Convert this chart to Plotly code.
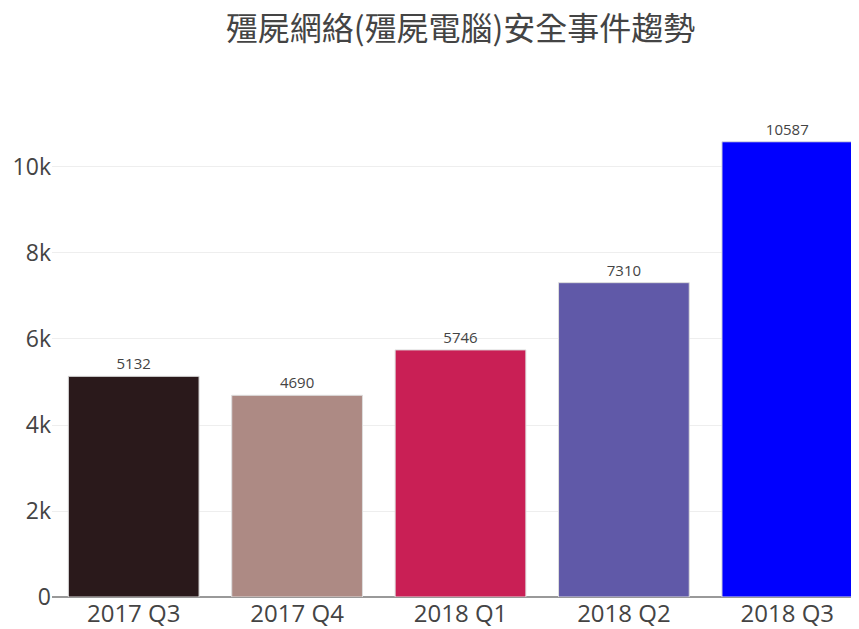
import plotly.graph_objects as go

categories = ["2017 Q3", "2017 Q4", "2018 Q1", "2018 Q2", "2018 Q3"]
values = [5132, 4690, 5746, 7310, 10587]
colors = ["#2a191b", "#ad8a84", "#c91f55", "#6059a8", "#0000ff"]
title = "殭屍網絡(殭屍電腦)安全事件趨勢"

fig = go.Figure(go.Bar(
    x=categories, y=values,
    marker=dict(color=colors, line=dict(color="#dddddd", width=1)),
    text=[str(v) for v in values], textposition="outside",
    textfont=dict(size=15, color="#444", family="Open Sans"),
    cliponaxis=False,
))
fig.update_layout(
    width=862, height=621,
    paper_bgcolor="white", plot_bgcolor="white",
    margin=dict(l=44, r=1, t=111, b=32, autoexpand=False),
    bargap=0.2,
    title=dict(text=title, x=0.5, xref="paper", xanchor="center", y=0.966, yanchor="middle",
               font=dict(size=32, color="#444", family="Noto Sans CJK TC")),
    font=dict(family="Open Sans", color="#444"),
    xaxis=dict(tickfont=dict(size=24, color="#444"), showgrid=False, ticks="", automargin=False),
    yaxis=dict(tickfont=dict(size=23, color="#444"), gridcolor="#eeeeee",
               zeroline=True, zerolinecolor="#999", zerolinewidth=2,
               range=[0, 11116], dtick=2000, ticks="", automargin=False),
    showlegend=False,
)
fig.write_html("out.html")
